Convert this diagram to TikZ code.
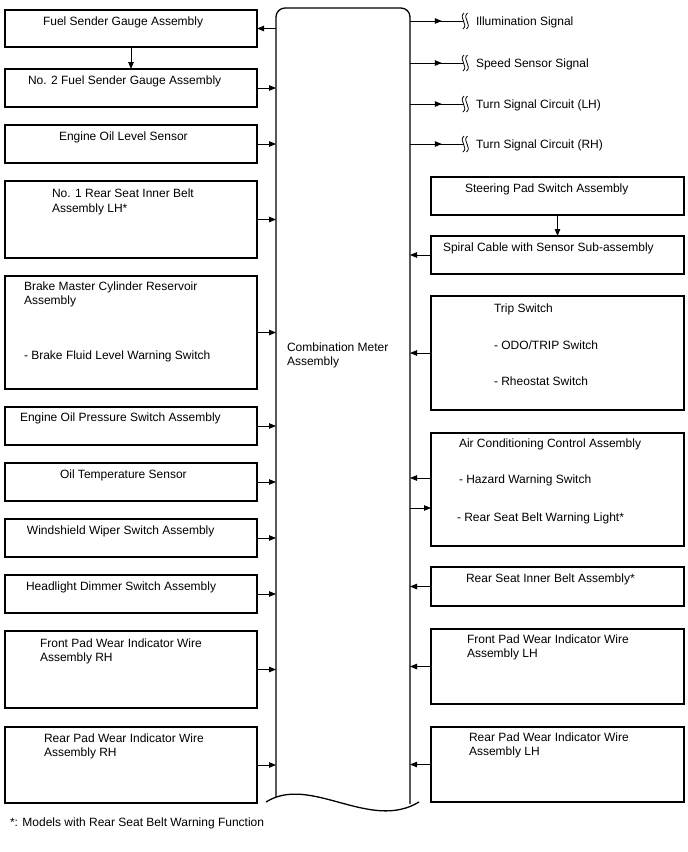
\documentclass[tikz,border=0pt]{standalone}
\usepackage{fontspec}
\setmainfont{Liberation Sans}
\usetikzlibrary{arrows.meta,decorations.markings}
\begin{document}
\begin{tikzpicture}[x=1pt,y=-1pt,
  box/.style={draw,line width=1.1pt,rectangle,anchor=north west,inner sep=0,outer sep=0},
  lbox/.style={box,minimum width=252pt},
  rbox/.style={box,minimum width=253pt},
  txt/.style={anchor=base west,inner sep=0,outer sep=0,font=\fontsize{12}{14}\selectfont},
  arr/.style={line width=0.8pt,-{Triangle[length=7pt,width=5.5pt]}},
  midarr/.style={line width=0.8pt,postaction={decorate},decoration={markings,mark=at position 0.6 with {\arrow{Triangle[length=7pt,width=5.5pt]}}}},
  brk/.style={line width=0.8pt}
]
\useasboundingbox (0,0) rectangle (688,852);

% main box
\node[anchor=north west,minimum width=134pt,minimum height=795pt,inner sep=0,outer sep=0] (main) at (276,8) {};
\draw[line width=1.3pt,rounded corners=9pt] (276,797) -- (276,8) -- (410,8) -- (410,804);
\draw[line width=1.3pt] (266,802) .. controls (310,774) and (370,832) .. (419,802);
\node[txt] (mt1) at (287,351) {Combination Meter};
\node[txt] (mt2) at (287,365) {Assembly};

% left boxes
\node[lbox,minimum height=37pt] (L1) at (5,10) {};
\node[txt] (l1a) at (43,25) {Fuel Sender Gauge Assembly};
\node[lbox,minimum height=38pt] (L2) at (5,69) {};
\node[txt] (l2a) at (28,84) {No. 2 Fuel Sender Gauge Assembly};
\node[lbox,minimum height=38pt] (L3) at (5,125) {};
\node[txt] (l3a) at (59,140) {Engine Oil Level Sensor};
\node[lbox,minimum height=77pt] (L4) at (5,181) {};
\node[txt] (l4a) at (52,197) {No. 1 Rear Seat Inner Belt};
\node[txt] (l4b) at (52,212) {Assembly LH*};
\node[lbox,minimum height=113pt] (L5) at (5,276) {};
\node[txt] (l5a) at (24,290) {Brake Master Cylinder Reservoir};
\node[txt] (l5b) at (24,304) {Assembly};
\node[txt] (l5c) at (24,359) {- Brake Fluid Level Warning Switch};
\node[lbox,minimum height=38pt] (L6) at (5,407) {};
\node[txt] (l6a) at (20,421) {Engine Oil Pressure Switch Assembly};
\node[lbox,minimum height=38pt] (L7) at (5,463) {};
\node[txt] (l7a) at (60,478) {Oil Temperature Sensor};
\node[lbox,minimum height=38pt] (L8) at (5,519) {};
\node[txt] (l8a) at (27,534) {Windshield Wiper Switch Assembly};
\node[lbox,minimum height=38pt] (L9) at (5,575) {};
\node[txt] (l9a) at (26,590) {Headlight Dimmer Switch Assembly};
\node[lbox,minimum height=77pt] (L10) at (5,631) {};
\node[txt] (l10a) at (40,647) {Front Pad Wear Indicator Wire};
\node[txt] (l10b) at (40,661) {Assembly RH};
\node[lbox,minimum height=76pt] (L11) at (5,727) {};
\node[txt] (l11a) at (44,742) {Rear Pad Wear Indicator Wire};
\node[txt] (l11b) at (44,756) {Assembly RH};

% right boxes
\node[rbox,minimum height=38pt] (R1) at (431,177) {};
\node[txt] (r1a) at (465,192) {Steering Pad Switch Assembly};
\node[rbox,minimum height=38pt] (R2) at (431,236) {};
\node[txt] (r2a) at (443,251) {Spiral Cable with Sensor Sub-assembly};
\node[rbox,minimum height=114pt] (R3) at (431,296) {};
\node[txt] (r3a) at (494,312) {Trip Switch};
\node[txt] (r3b) at (494,349) {- ODO/TRIP Switch};
\node[txt] (r3c) at (494,385) {- Rheostat Switch};
\node[rbox,minimum height=113pt] (R4) at (431,433) {};
\node[txt] (r4a) at (459,447) {Air Conditioning Control Assembly};
\node[txt] (r4b) at (459,483) {- Hazard Warning Switch};
\node[txt] (r4c) at (457,521) {- Rear Seat Belt Warning Light*};
\node[rbox,minimum height=39pt] (R5) at (431,567) {};
\node[txt] (r5a) at (466,582) {Rear Seat Inner Belt Assembly*};
\node[rbox,minimum height=75pt] (R6) at (431,629) {};
\node[txt] (r6a) at (467,643) {Front Pad Wear Indicator Wire};
\node[txt] (r6b) at (467,657) {Assembly LH};
\node[rbox,minimum height=75pt] (R7) at (431,727) {};
\node[txt] (r7a) at (469,741) {Rear Pad Wear Indicator Wire};
\node[txt] (r7b) at (469,755) {Assembly LH};

% footnote
\node[txt] (foot) at (10,826) {*: Models with Rear Seat Belt Warning Function};

% left connectors
\draw[arr] (L1.east -| main.west) -- (L1.east);
\draw[arr] (L1.south) -- (L2.north);
\foreach \b in {L2,L3,L4,L5,L6,L7,L8,L9,L10,L11}
  \draw[arr] (\b.east) -- (\b.east -| main.west);

% right connectors
\draw[arr] (R1.south) -- (R2.north);
\foreach \b in {R2,R3,R5,R6,R7}
  \draw[arr] (\b.west) -- (\b.west -| main.east);
\coordinate (r4in) at (431,478);
\coordinate (r4out) at (431,508);
\draw[arr] (r4in) -- (r4in -| main.east);
\draw[arr] (r4out -| main.east) -- (r4out);

% signals
\foreach \y/\n/\t in {21/s1/Illumination Signal,63/s2/Speed Sensor Signal,104/s3/Turn Signal Circuit (LH),144/s4/Turn Signal Circuit (RH)}{
  \coordinate (\n) at (463,\y);
  \draw[midarr] (\n -| main.east) -- (\n);
  \draw[brk] (464,\y-8) .. controls (458,\y-3) and (469,\y+3) .. (463,\y+8);
  \draw[brk] (467.5,\y-8) .. controls (461.5,\y-3) and (472.5,\y+3) .. (466.5,\y+8);
  \node[txt] (\n t) at (476,\y+4) {\t};
}
\end{tikzpicture}
\end{document}
